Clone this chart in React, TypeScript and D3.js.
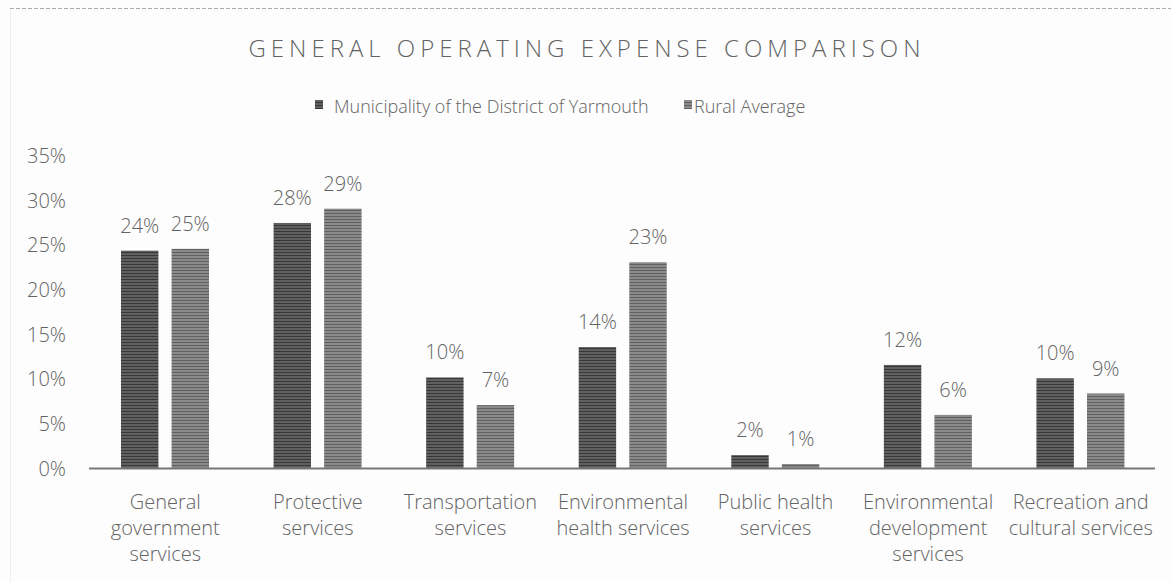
import React from "react";
import * as d3 from "d3";

const categories: string[][] = [
  ["General", "government", "services"],
  ["Protective", "services"],
  ["Transportation", "services"],
  ["Environmental", "health services"],
  ["Public health", "services"],
  ["Environmental", "development", "services"],
  ["Recreation and", "cultural services"],
];
const seriesNames = ["Municipality of the District of Yarmouth", "Rural Average"];
const municipality = [24.4, 27.5, 10.2, 13.6, 1.5, 11.6, 10.1];
const rural = [24.6, 29.1, 7.1, 23.1, 0.5, 6.0, 8.4];
const muniLabels = ["24%", "28%", "10%", "14%", "2%", "12%", "10%"];
const ruralLabels = ["25%", "29%", "7%", "23%", "1%", "6%", "9%"];
const yTicks = [0, 5, 10, 15, 20, 25, 30, 35];

const W = 1171;
const H = 582;
const FONT = "'Open Sans', 'Noto Sans', sans-serif";
const TEXT = "#636363";

export default function App() {
  const x = d3.scaleBand<number>().domain(d3.range(categories.length)).range([89, 1157]).paddingInner(0).paddingOuter(0);
  const y = d3.scaleLinear().domain([0, 35]).range([468.5, 156]);
  const inner = d3.scaleBand<number>().domain([0, 1]).range([32, 120]).paddingInner(0.26);
  const series = [municipality, rural];
  const labels = [muniLabels, ruralLabels];
  const fills = ["url(#patA)", "url(#patB)"];

  return (
    <svg width={W} height={H} style={{ position: "absolute", left: 0, top: 0, background: "#fff" }}>
      <defs>
        <pattern id="patA" width="4" height="3" patternUnits="userSpaceOnUse">
          <rect width="4" height="3" fill="#606060" />
          <rect width="4" height="1" fill="#383838" />
        </pattern>
        <pattern id="patB" width="4" height="3" patternUnits="userSpaceOnUse">
          <rect width="4" height="3" fill="#8a8a8a" />
          <rect width="4" height="1" fill="#606060" />
        </pattern>
      </defs>
      <rect width={W} height={H} fill="#fdfdfd" />
      <line x1={10} x2={1171} y1={8.5} y2={8.5} stroke="#aaa" strokeDasharray="4 2" strokeWidth={1} />
      <line x1={10.5} x2={10.5} y1={9} y2={582} stroke="#eee" strokeWidth={1} />
      <g fontWeight={300}>
        <text x={587} y={57} textAnchor="middle" fontFamily={FONT} fontSize={24} fill={TEXT} letterSpacing={5.0}>
          GENERAL OPERATING EXPENSE COMPARISON
        </text>
        {/* legend */}
        <g fontFamily={FONT} fontSize={18} fill={TEXT}>
          <rect x={315} y={100} width={8} height={9} fill="url(#patA)" />
          <text x={334} y={113}>{seriesNames[0]}</text>
          <rect x={684} y={100} width={8} height={9} fill="url(#patB)" />
          <text x={694} y={113}>{seriesNames[1]}</text>
        </g>
        {/* y ticks */}
        <g fontFamily={FONT} fontSize={20} fill={TEXT}>
          {yTicks.map((t) => (
            <text key={t} x={66} y={y(t) + 7} textAnchor="end">{`${t}%`}</text>
          ))}
        </g>
        {/* bars */}
        {series.map((s, si) => (
          <g key={si}>
            {s.map((v, i) => {
              const bx = (x(i) as number) + (inner(si) as number);
              return (
                <g key={i}>
                  <rect x={bx} y={y(v)} width={inner.bandwidth()} height={y(0) - y(v)} fill={fills[si]} />
                  <text x={bx + inner.bandwidth() / 2} y={y(v) - 18} textAnchor="middle" fontFamily={FONT} fontSize={20} fill={TEXT}>
                    {labels[si][i]}
                  </text>
                </g>
              );
            })}
          </g>
        ))}
        <line x1={89} x2={1155} y1={468.5} y2={468.5} stroke="#777" strokeWidth={2} />
        {/* category labels */}
        <g fontFamily={FONT} fontSize={20} fill={TEXT}>
          {categories.map((lines, i) => (
            <text key={i} x={(x(i) as number) + x.bandwidth() / 2} y={509} textAnchor="middle">
              {lines.map((l, j) => (
                <tspan key={j} x={(x(i) as number) + x.bandwidth() / 2} dy={j === 0 ? 0 : 26}>{l}</tspan>
              ))}
            </text>
          ))}
        </g>
      </g>
    </svg>
  );
}
